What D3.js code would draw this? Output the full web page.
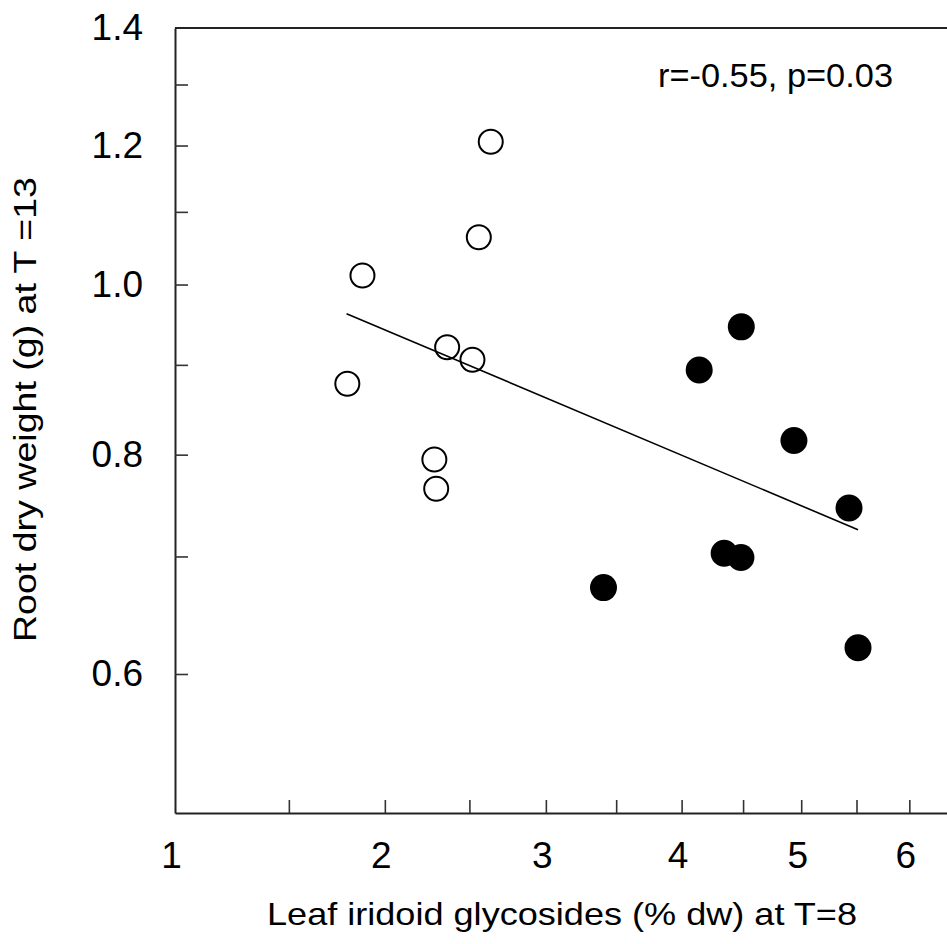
<!DOCTYPE html>
<html>
<head>
<meta charset="utf-8">
<script src="https://cdn.jsdelivr.net/npm/d3@7"></script>
<style>
  body { margin: 0; background: #fff; }
  svg { display: block; font-family: "Liberation Sans", Arial, sans-serif; }
</style>
</head>
<body>
<div id="chart"></div>
<script>
// define variables
const width = 947;
const height = 944;

// open circles (low iridoid group)
const openX = [2.635, 2.559, 1.877, 2.363, 2.519, 1.796, 2.286, 2.297];
const openY = [1.206, 1.064, 1.012, 0.921, 0.906, 0.878, 0.795, 0.765];

// filled circles (high iridoid group)
const filledX = [4.485, 4.140, 4.936, 5.431, 4.343, 4.482, 3.407, 5.514];
const filledY = [0.946, 0.894, 0.815, 0.746, 0.703, 0.699, 0.672, 0.621];

// regression line ends
const fitX = [1.792, 5.514];
const fitY = [0.9625, 0.725];

const xTicks = [1, 1.5, 2, 2.5, 3, 3.5, 4, 4.5, 5, 5.5, 6];
const yTicks = [0.6, 0.7, 0.8, 0.9, 1.0, 1.1, 1.2, 1.3, 1.4];

const annotation = "r=-0.55, p=0.03";
const xTitle = "Leaf iridoid glycosides (% dw) at T=8";
const yTitle = "Root dry weight (g) at T =13";

// scales
const x = d3.scaleSqrt().domain([1, 6.5]).range([175, 960]);
const y = d3.scaleLog().domain([0.5, 1.4]).range([813, 28]);

const svg = d3.select("#chart")
    .append("svg")
    .attr("width", width)
    .attr("height", height);

///
/// AXES
///

const xAxis = svg.append("g")
    .attr("transform", "translate(0,813)")
    .call(d3.axisBottom(x)
        .tickValues(xTicks)
        .tickSize(-13)
        .tickSizeOuter(0)
        .tickPadding(29)
        .tickFormat(d => Number.isInteger(d) ? d : ""));

const yAxis = svg.append("g")
    .attr("transform", "translate(175,0)")
    .call(d3.axisLeft(y)
        .tickValues(yTicks)
        .tickSize(-13)
        .tickSizeOuter(0)
        .tickPadding(32)
        .tickFormat(d => Math.round(d * 10) % 2 === 0 ? d3.format(".1f")(d) : ""));

[xAxis, yAxis].forEach(g => {
    g.select(".domain").attr("stroke", "#222").attr("stroke-width", 2);
    g.selectAll(".tick line").attr("stroke", "#333").attr("stroke-width", 1.6);
    g.selectAll(".tick text")
        .attr("fill", "#000")
        .style("font-size", "37px")
        .style("font-family", "'Liberation Sans', Arial, sans-serif");
});
xAxis.selectAll(".tick text").attr("dx", -4);
// no tick line at the very ends
xAxis.selectAll(".tick").filter(d => d === 1).select("line").remove();
yAxis.selectAll(".tick").filter(d => d === 1.4).select("line").remove();

// top frame
svg.append("line")
    .attr("x1", x(1)).attr("x2", x(6.5))
    .attr("y1", y(1.4)).attr("y2", y(1.4))
    .attr("stroke", "#222")
    .attr("stroke-width", 2);

///
/// TITLES
///

svg.append("text")
    .attr("x", 267)
    .attr("y", 925)
    .attr("textLength", 590)
    .attr("lengthAdjust", "spacingAndGlyphs")
    .style("font-size", "32px")
    .text(xTitle);

svg.append("text")
    .attr("transform", "translate(36,642) rotate(-90)")
    .attr("textLength", 465)
    .attr("lengthAdjust", "spacingAndGlyphs")
    .style("font-size", "31px")
    .text(yTitle);

svg.append("text")
    .attr("x", 658)
    .attr("y", 87)
    .attr("textLength", 235)
    .attr("lengthAdjust", "spacingAndGlyphs")
    .style("font-size", "33px")
    .text(annotation);

///
/// REGRESSION LINE
///

svg.append("line")
    .attr("x1", x(fitX[0])).attr("y1", y(fitY[0]))
    .attr("x2", x(fitX[1])).attr("y2", y(fitY[1]))
    .attr("stroke", "#000")
    .attr("stroke-width", 1.6);

///
/// POINTS
///

svg.append("g")
    .selectAll("circle")
    .data(d3.zip(openX, openY))
    .join("circle")
    .attr("cx", d => x(d[0]))
    .attr("cy", d => y(d[1]))
    .attr("r", 12)
    .attr("fill", "none")
    .attr("stroke", "#000")
    .attr("stroke-width", 2);

svg.append("g")
    .selectAll("circle")
    .data(d3.zip(filledX, filledY))
    .join("circle")
    .attr("cx", d => x(d[0]))
    .attr("cy", d => y(d[1]))
    .attr("r", 13.5)
    .attr("fill", "#000");
</script>
</body>
</html>
